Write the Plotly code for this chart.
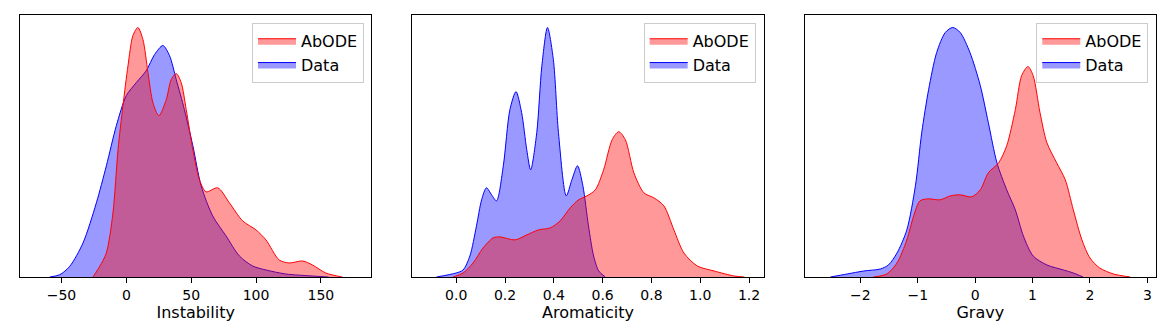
import plotly.graph_objects as go
from plotly.subplots import make_subplots

# density curves (relative height units)
instability_abode_x = [-25.7, -20.5, -15.4, -10.3, -6.4, -2.6, 1.3, 5.1, 8.9, 12.8, 16.7, 20.5, 25.1, 30.8,
                       34.6, 38.5, 42.3, 46.2, 51.3, 56.4, 61.5, 70.5, 79.5, 89.7, 100.0, 107.7, 117.9,
                       125.6, 135.9, 143.6, 153.8, 166.6]
instability_abode_y = [0, 10.7, 24, 64, 127, 171, 211, 241, 249, 237, 204, 174, 161, 177,
                       197, 203, 194, 167, 127, 97, 85, 89, 74, 56, 47, 37, 17,
                       14, 16, 12, 4, 0]
instability_data_x = [-59, -51.3, -43.6, -33.4, -23.1, -15.4, -7.7, 0, 7.7, 15.4, 21.8, 28.2, 33.3, 38.5,
                      44.8, 51.3, 57.7, 66.6, 76.9, 87.2, 97.4, 107.7, 123, 143.5, 156]
instability_data_y = [0, 2.3, 10.7, 34, 74, 111, 151, 181, 194, 206, 222, 231, 221, 197,
                      167, 131, 91, 61, 41, 21, 11, 7, 3, 1, 0]

aromaticity_abode_x = [-0.013, 0.028, 0.069, 0.11, 0.151, 0.179, 0.241, 0.289, 0.337, 0.385, 0.426, 0.467,
                       0.501, 0.536, 0.57, 0.604, 0.639, 0.666, 0.693, 0.728, 0.769, 0.81, 0.851, 0.892,
                       0.933, 0.988, 1.057, 1.139, 1.18]
aromaticity_abode_y = [0, 4, 14, 29, 39, 40, 37, 42, 47, 49, 56, 69,
                       77, 81, 87, 107, 137, 145, 137, 104, 84, 79, 71, 47,
                       24, 11, 6, 1, 0]
aromaticity_data_x = [-0.081, 0.0, 0.028, 0.056, 0.083, 0.104, 0.124, 0.145, 0.165, 0.193, 0.22, 0.245,
                      0.268, 0.289, 0.305, 0.33, 0.351, 0.374, 0.398, 0.419, 0.451, 0.474, 0.497, 0.519,
                      0.542, 0.563, 0.584, 0.611]
aromaticity_data_y = [0, 4, 7, 21, 51, 77, 89, 82, 76, 111, 167, 185,
                      164, 127, 107, 144, 211, 249, 217, 144, 81, 97, 111, 91,
                      51, 21, 6, 0]

gravy_abode_x = [-1.77, -1.54, -1.36, -1.19, -1.07, -0.96, -0.81, -0.61, -0.43, -0.26, -0.06, 0.09,
                 0.23, 0.41, 0.55, 0.70, 0.81, 0.92, 1.01, 1.13, 1.25, 1.42, 1.57, 1.71,
                 1.86, 2.0, 2.17, 2.41, 2.70]
gravy_abode_y = [0, 3, 14, 37, 61, 76, 78, 77, 81, 82, 80, 87,
                 104, 114, 131, 167, 201, 210, 201, 164, 134, 114, 97, 67,
                 37, 19, 9, 3, 0]
gravy_data_x = [-2.52, -2.23, -1.94, -1.65, -1.51, -1.36, -1.19, -1.04, -0.93, -0.81, -0.67, -0.52,
                -0.39, -0.26, -0.09, 0.09, 0.23, 0.38, 0.55, 0.70, 0.84, 1.01, 1.25, 1.54,
                1.71, 1.88]
gravy_data_y = [0, 3, 6, 8, 12, 24, 47, 91, 144, 187, 224, 244,
                249, 244, 224, 191, 154, 114, 87, 67, 41, 21, 12, 7,
                4, 0]

panels = [
    ("Instability", instability_abode_x, instability_abode_y, instability_data_x, instability_data_y),
    ("Aromaticity", aromaticity_abode_x, aromaticity_abode_y, aromaticity_data_x, aromaticity_data_y),
    ("Gravy", gravy_abode_x, gravy_abode_y, gravy_data_x, gravy_data_y),
]
x_ranges = [[-82, 189], [-0.18, 1.26], [-2.97, 3.15]]
x_ticks = [[-50, 0, 50, 100, 150], [0.0, 0.2, 0.4, 0.6, 0.8, 1.0, 1.2], [-2, -1, 0, 1, 2, 3]]
tick_text = [["\u221250", "0", "50", "100", "150"],
             ["0.0", "0.2", "0.4", "0.6", "0.8", "1.0", "1.2"],
             ["\u22122", "\u22121", "0", "1", "2", "3"]]
legend_names = ["legend", "legend2", "legend3"]
legend_right = [0.3028, 0.6476, 0.9932]

fig = make_subplots(rows=1, cols=3, horizontal_spacing=0.036)

for i, (title, ax_x, ax_y, d_x, d_y) in enumerate(panels):
    col = i + 1
    # Data drawn first so AbODE sits on top
    fig.add_trace(go.Scatter(
        x=d_x, y=d_y, mode="lines", name="Data",
        line=dict(color="#0000ff", width=1, shape="spline", smoothing=0.8),
        fill="tozeroy", fillcolor="rgba(0,0,255,0.4)",
        legend=legend_names[i], legendrank=2,
    ), row=1, col=col)
    fig.add_trace(go.Scatter(
        x=ax_x, y=ax_y, mode="lines", name="AbODE",
        line=dict(color="#ff0000", width=1, shape="spline", smoothing=0.8),
        fill="tozeroy", fillcolor="rgba(255,0,0,0.4)",
        legend=legend_names[i], legendrank=1,
    ), row=1, col=col)

    ymax = max(max(ax_y), max(d_y)) * 1.05
    fig.update_xaxes(
        range=x_ranges[i], tickvals=x_ticks[i], ticktext=tick_text[i],
        showline=True, mirror=True, linecolor="black", linewidth=1,
        ticks="outside", ticklen=5, tickcolor="black", showgrid=False, zeroline=False,
        tickfont=dict(size=14, color="black"),
        title=dict(text=title, font=dict(size=16, color="black"), standoff=3),
        row=1, col=col,
    )
    fig.update_yaxes(
        range=[0, ymax], showticklabels=False, ticks="",
        showline=True, mirror=True, linecolor="black", linewidth=1,
        showgrid=False, zeroline=False, row=1, col=col,
    )

legend_style = dict(
    xanchor="right", yanchor="top", y=0.97,
    bgcolor="rgba(255,255,255,0.8)", bordercolor="#cccccc", borderwidth=1,
    font=dict(size=16, color="black"), tracegroupgap=0, itemwidth=38,
)
# the page puts the plot 8px in from the top-left corner
fig.update_layout(
    width=1164, height=327,
    margin=dict(l=12, r=16, t=7, b=58),
    plot_bgcolor="white", paper_bgcolor="white",
    font=dict(family="DejaVu Sans"),
    legend=dict(x=legend_right[0], **legend_style),
    legend2=dict(x=legend_right[1], **legend_style),
    legend3=dict(x=legend_right[2], **legend_style),
)

fig.write_html("out.html")
